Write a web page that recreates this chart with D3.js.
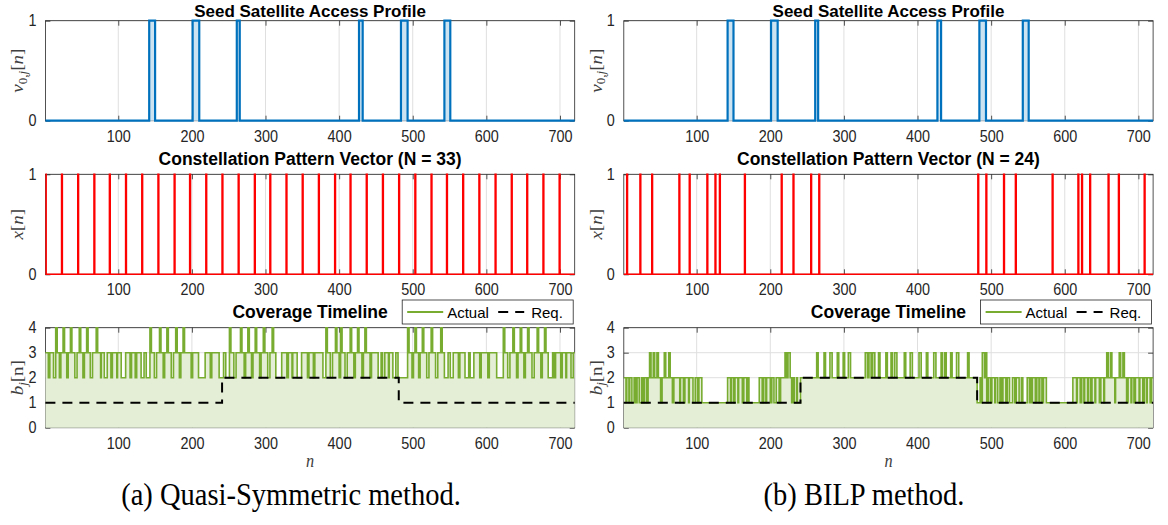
<!DOCTYPE html>
<html><head><meta charset="utf-8">
<script src="https://cdn.jsdelivr.net/npm/d3@7"></script>
<style>body{margin:0;background:#fff}svg{display:block}</style>
</head><body>
<svg id="chart" width="1168" height="525"></svg>
<script>
// ---------------- data ----------------
const nMax = 720;
const xTickValues = [100, 200, 300, 400, 500, 600, 700];
// seed satellite access windows (v = 1 for start <= n < end)
const windowStart = [142, 201, 261, 427, 484, 543];
const windowEnd   = [150, 210, 265, 432, 493, 551];
// constellation pattern impulse positions
const patternA = [1, 23, 45, 67, 88, 110, 132, 154, 176, 197, 219, 241, 263, 285, 306, 328, 350,
                  372, 394, 415, 437, 459, 481, 503, 525, 546, 568, 590, 612, 634, 655, 677, 699];
const patternB = [5, 23, 39, 76, 90, 114, 125, 131, 165, 215, 231, 255, 266,
                  482, 493, 517, 533, 583, 618, 623, 634, 659, 673, 708];
// coverage timeline b_j[n] as [level, run length] (n = 1..720)
const coverageA = [
  [3,4],[2,2],[3,5],[2,3],
  [4,2],[3,3],[2,2],[3,3],[4,2],[3,3],[2,2],[3,3],[4,2],[3,4],[2,3],[3,3],[4,2],[3,3],[2,2],[3,3],[4,2],[3,3],[2,3],[3,5],[4,2],
  [3,4],[2,1],[3,4],[2,4],[3,5],[2,2],[3,6],[2,1],[3,5],[2,6],[3,6],[2,2],[3,5],[2,2],[3,6],[2,4],[3,3],[2,5],
  [4,2],[3,4],[2,3],[3,4],[4,2],[3,3],[2,2],[3,3],[4,2],[3,4],[2,3],[3,3],[4,2],[3,3],[2,2],[3,3],[4,2],[3,3],
  [3,6],[2,2],[3,8],[2,9],[3,7],[2,2],[3,10],[2,6],[3,3],[2,5],
  [4,2],[3,4],[2,3],[3,6],[4,2],[3,3],[2,2],[3,3],[4,2],[3,3],[2,2],[3,3],[4,2],[3,4],[2,2],[3,3],[4,2],[3,4],[2,3],[3,3],[4,2],
  [3,3],[2,8],[3,7],[2,2],[3,5],[2,1],[3,6],[2,6],[3,8],[2,2],[3,6],[2,2],[3,11],[2,4],
  [4,2],[3,4],[2,3],[3,4],[4,2],[3,3],[2,2],[4,2],[3,4],[2,3],[3,4],[4,2],[3,3],[2,2],[3,3],[4,2],[3,4],[2,2],[3,2],[4,2],[3,5],
  [2,2],[3,9],[2,4],[3,2],[2,3],[3,5],[2,1],[3,5],[2,4],[3,3],[2,13],
  [4,2],[3,4],[2,2],[3,2],[4,2],[3,3],[2,2],[3,3],[4,2],[3,4],[2,3],[3,3],[4,2],[3,4],[2,3],[3,4],[4,2],[3,3],
  [2,5],[3,3],[2,4],[3,7],[2,2],[3,7],[2,5],[3,2],[2,5],[3,8],[2,2],[3,9],[2,2],[3,10],[2,9],
  [4,2],[3,4],[2,3],[3,4],[4,2],[3,3],[2,2],[3,3],[4,2],[3,3],[2,2],[3,3],[4,2],[3,4],[2,3],[3,4],[4,2],[3,3],[2,2],[3,3],[4,2],[3,1],
  [3,2],[2,6],[3,2],[2,2],[3,7],[2,2],[3,5],[2,1],[3,6],[2,3],[3,3]
];
const coverageB = [
  [2,3],[1,1],[2,3],[1,1],[2,3],
  [1,3],[2,2],[1,2],[2,3],[1,3],[2,2],[1,2],[2,3],[1,2],[2,2],
  [3,2],[2,3],[3,2],[2,3],[3,2],[2,3],[1,2],[2,3],[3,2],[2,4],[3,2],
  [2,3],[1,2],[2,3],
  [2,5],[1,1],[2,4],[1,2],[2,5],[1,1],[2,5],
  [1,3],[2,3],[1,2],[2,4],[1,3],
  [1,32],
  [2,4],[1,1],[2,3],[1,2],[2,4],[1,1],[2,5],[1,2],[2,4],[1,1],[2,2],
  [1,14],
  [2,4],[1,2],[2,3],[1,1],[2,5],[1,2],[2,3],[1,3],[2,4],[1,2],[2,4],
  [2,2],[3,2],[2,2],[3,3],[2,2],[1,2],[2,2],
  [1,3],[2,1],[1,4],
  [2,22],[3,2],[2,8],[3,2],[2,6],[3,3],[2,7],[3,2],[2,6],[3,2],[2,5],[3,3],[2,20],[3,3],[2,2],[3,3],[2,2],[3,3],
  [2,5],[3,2],[2,8],[3,2],[2,5],[3,2],[2,3],[3,3],[2,10],[3,2],[2,6],[3,3],[2,9],[3,3],[2,7],[3,2],[2,8],[3,3],
  [2,7],[3,2],[2,3],[3,2],[2,6],[3,2],[2,6],[3,3],[2,12],[3,2],[2,11],
  [1,4],[2,1],[1,2],
  [3,3],[2,1],[3,2],
  [1,2],[2,3],[1,2],[2,4],[1,1],[2,3],[1,3],[2,2],[1,2],[2,4],[1,2],[2,3],[1,4],[2,3],[1,2],[2,4],[1,3],[2,2],[1,3],
  [1,3],
  [2,3],[1,1],[2,2],[1,1],[2,4],[1,2],[2,3],[1,1],[2,3],[1,2],[2,4],
  [1,36],
  [2,5],[1,1],[2,4],[1,2],[2,3],[1,1],[2,4],[1,1],[2,3],[1,2],[2,4],[1,1],[2,5],[1,2],[2,4],[1,1],[2,3],
  [3,2],[2,3],[3,2],[2,4],[1,1],[2,5],[3,2],[2,3],[3,2],[2,3],
  [1,2],[2,4],[1,1],[2,3],[1,2],[2,5],[1,1],[2,4],[1,2],[2,3],[1,1],[2,4],[1,2],[2,3]
];
// coverage requirement (piecewise levels)
const reqBreaks = [1, 241, 481, 721];
const reqLevels = [1, 2, 1];
const titleTop = "Seed Satellite Access Profile";
const titlesMid = ["Constellation Pattern Vector (N = 33)", "Constellation Pattern Vector (N = 24)"];
const titleBottom = "Coverage Timeline";
const legendLabels = ["Actual", "Req."];
const captions = ["(a) Quasi-Symmetric method.", "(b) BILP method."];

// ---------------- layout ----------------
const SX = 0.9;
const svg = d3.select("#chart");
const cols = [{x0: 45.4, x1: 574.7, cap: 291}, {x0: 623.8, x1: 1153.1, cap: 864}];
const rows = [{y0: 20.7, y1: 120.7}, {y0: 174.3, y1: 274.3}, {y0: 327.7, y1: 427.7}];
const axisColor = "#262626", gridColor = "#dfdfdf";
const cBlue = "#0072BD", cBlueFill = "rgb(204,227,242)", cRed = "#FF0000";
const cGreen = "#77AC30", cGreenFill = "rgb(228,238,214)";
const sansF = "'Liberation Sans', Arial, Helvetica, sans-serif";
const serifF = "'Liberation Serif', 'Times New Roman', serif";

const nRange = d3.range(1, nMax + 1);
const vSeries = nRange.map(n => ({n, v: windowStart.some((s, i) => n >= s && n < windowEnd[i]) ? 1 : 0}));
function expandRuns(runs) {
  const out = [];
  runs.forEach(([lv, len]) => { for (let i = 0; i < len; i++) out.push(lv); });
  return nRange.map((n, i) => ({n, v: out[Math.min(i, out.length - 1)]}));
}
function impulses(pattern) {
  const s = new Set(pattern);
  return nRange.map(n => ({n, v: s.has(n) ? 1 : 0}));
}
function extend(series) { const last = series[series.length - 1]; return series.concat([{n: last.n + 1, v: last.v}]); }

function text(g, x, y, s, o = {}) {
  const sx = o.sx || SX;
  const t = g.append("text")
    .attr("transform", `translate(${x},${y}) ${o.rot ? "rotate(-90) scale(1," + sx + ")" : "scale(" + sx + ",1)"}`)
    .attr("text-anchor", o.anchor || "middle")
    .attr("font-family", o.family || sansF)
    .attr("font-size", o.size || 15)
    .attr("font-weight", o.weight || "normal")
    .attr("fill", o.fill || "#000");
  if (typeof s === "string") t.text(s); else s(t);
  return t;
}

let clipId = 0;
function panel(col, row, yMax, yTicks) {
  const x = d3.scaleLinear().domain([1, nMax]).range([col.x0, col.x1]);
  const y = d3.scaleLinear().domain([0, yMax]).range([row.y1, row.y0]);
  const g = svg.append("g");
  g.selectAll(".gx").data(xTickValues).join("line")
    .attr("x1", d => x(d)).attr("x2", d => x(d)).attr("y1", row.y0).attr("y2", row.y1)
    .attr("stroke", gridColor).attr("stroke-width", 1);
  g.selectAll(".gy").data(yTicks).join("line")
    .attr("x1", col.x0).attr("x2", col.x1).attr("y1", d => y(d)).attr("y2", d => y(d))
    .attr("stroke", gridColor).attr("stroke-width", 1);
  const fmt = g => g.call(s => s.select(".domain").remove())
    .call(s => s.selectAll(".tick line").attr("stroke", axisColor).attr("stroke-width", 0.8))
    .call(s => s.selectAll(".tick text").attr("fill", axisColor).attr("font-size", 16).attr("font-family", sansF));
  g.append("g").attr("transform", `translate(0,${row.y1})`)
    .call(d3.axisBottom(x).tickValues(xTickValues).tickSizeInner(-5).tickSizeOuter(0).tickPadding(9.5)).call(fmt)
    .call(s => s.selectAll(".tick text").attr("transform", `scale(${SX},1)`));
  g.append("g").attr("transform", `translate(0,${row.y0})`)
    .call(d3.axisTop(x).tickValues(xTickValues).tickSizeInner(-5).tickSizeOuter(0).tickFormat("")).call(fmt);
  g.append("g").attr("transform", `translate(${col.x0},0)`)
    .call(d3.axisLeft(y).tickValues(yTicks).tickFormat(d3.format("d")).tickSizeInner(-5).tickSizeOuter(0).tickPadding(10)).call(fmt)
    .call(s => s.selectAll(".tick text").attr("transform", `scale(${SX},1)`));
  g.append("g").attr("transform", `translate(${col.x1},0)`)
    .call(d3.axisRight(y).tickValues(yTicks).tickSizeInner(-5).tickSizeOuter(0).tickFormat("")).call(fmt);
  g.append("rect").attr("x", col.x0).attr("y", row.y0).attr("width", col.x1 - col.x0).attr("height", row.y1 - row.y0)
    .attr("fill", "none").attr("stroke", axisColor).attr("stroke-width", 0.8);
  const id = "clip" + (clipId++);
  svg.append("clipPath").attr("id", id).append("rect")
    .attr("x", col.x0 - 2).attr("y", row.y0 - 2).attr("width", col.x1 - col.x0 + 2).attr("height", row.y1 - row.y0 + 4);
  const data = svg.append("g").attr("clip-path", `url(#${id})`);
  return {x, y, g, data};
}

const lineStep = (x, y) => d3.line().x(d => x(d.n)).y(d => y(d.v)).curve(d3.curveStepAfter);
const areaStep = (x, y) => d3.area().x(d => x(d.n)).y0(y(0)).y1(d => y(d.v)).curve(d3.curveStepAfter);
const ylab = {rot: true, family: serifF, size: 19, fill: "#404040"};

[patternA, patternB].forEach((pattern, ci) => {
  const col = cols[ci];
  const cx = (col.x0 + col.x1) / 2;
  const labX = col.x0 - 22;
  // ---- top: access profile ----
  let p = panel(col, rows[0], 1, [0, 1]);
  const vs = extend(vSeries);
  p.data.append("path").datum(vs).attr("d", areaStep(p.x, p.y)).attr("fill", cBlueFill);
  p.data.append("path").datum(vs).attr("d", lineStep(p.x, p.y)).attr("fill", "none").attr("stroke", cBlue).attr("stroke-width", 2.2);
  text(svg, cx, 16.5, titleTop, {size: 17, weight: "bold", sx: 1});
  text(svg, labX, (rows[0].y0 + rows[0].y1) / 2, t => {
    t.append("tspan").attr("font-style", "italic").text("v");
    t.append("tspan").attr("font-size", 13).attr("dy", 4).text("0,");
    t.append("tspan").attr("font-size", 13).attr("font-style", "italic").text("j");
    t.append("tspan").attr("dy", -4).text("[");
    t.append("tspan").attr("font-style", "italic").text("n");
    t.append("tspan").text("]");
  }, ylab);

  // ---- middle: pattern vector ----
  p = panel(col, rows[1], 1, [0, 1]);
  p.data.append("path").datum(extend(impulses(pattern))).attr("d", lineStep(p.x, p.y))
    .attr("fill", "none").attr("stroke", cRed).attr("stroke-width", 1.6);
  text(svg, cx, rows[1].y0 - 9.5, titlesMid[ci], {size: 17.5, weight: "bold", sx: 1});
  text(svg, labX, (rows[1].y0 + rows[1].y1) / 2, t => {
    t.append("tspan").attr("font-style", "italic").text("x");
    t.append("tspan").text("[");
    t.append("tspan").attr("font-style", "italic").text("n");
    t.append("tspan").text("]");
  }, ylab);

  // ---- bottom: coverage ----
  p = panel(col, rows[2], 4, [0, 1, 2, 3, 4]);
  const cov = extend(expandRuns(ci === 0 ? coverageA : coverageB));
  p.data.append("path").datum(cov).attr("d", areaStep(p.x, p.y)).attr("fill", cGreenFill);
  p.data.append("path").datum(cov).attr("d", lineStep(p.x, p.y)).attr("fill", "none").attr("stroke", cGreen).attr("stroke-width", 1.6);
  const req = reqLevels.map((lv, i) => ({n: reqBreaks[i], v: lv}));
  req.push({n: reqBreaks[reqBreaks.length - 1], v: reqLevels[reqLevels.length - 1]});
  p.data.append("path").datum(req).attr("d", lineStep(p.x, p.y)).attr("fill", "none")
    .attr("stroke", "#000").attr("stroke-width", 2).attr("stroke-dasharray", "10,7");
  text(svg, cx, rows[2].y0 - 10, titleBottom, {size: 17.5, weight: "bold", sx: 1});
  text(svg, labX, (rows[2].y0 + rows[2].y1) / 2, t => {
    t.append("tspan").attr("font-style", "italic").text("b");
    t.append("tspan").attr("font-size", 13).attr("dy", 4).attr("font-style", "italic").text("j");
    t.append("tspan").attr("dy", -4).text("[n]");
  }, ylab);
  text(svg, cx, 467, t => t.append("tspan").attr("font-style", "italic").text("n"), {family: serifF, size: 18, fill: "#404040"});
  // legend
  const lx = col.x1 - 172.5, ly = 300;
  const lg = svg.append("g");
  lg.append("rect").attr("x", lx).attr("y", ly).attr("width", 171).attr("height", 24)
    .attr("fill", "#fff").attr("stroke", axisColor).attr("stroke-width", 0.8);
  lg.append("line").attr("x1", lx + 5).attr("x2", lx + 41).attr("y1", ly + 12).attr("y2", ly + 12)
    .attr("stroke", cGreen).attr("stroke-width", 2);
  text(lg, lx + 45, ly + 17.5, legendLabels[0], {anchor: "start", size: 15, sx: 1});
  lg.append("line").attr("x1", lx + 96).attr("x2", lx + 122).attr("y1", ly + 12).attr("y2", ly + 12)
    .attr("stroke", "#000").attr("stroke-width", 2).attr("stroke-dasharray", "10,7");
  text(lg, lx + 129, ly + 17.5, legendLabels[1], {anchor: "start", size: 15, sx: 1});
  // caption
  text(svg, col.cap, 505, captions[ci], {family: serifF, size: 31, sx: 0.92});
});
</script>
</body></html>
